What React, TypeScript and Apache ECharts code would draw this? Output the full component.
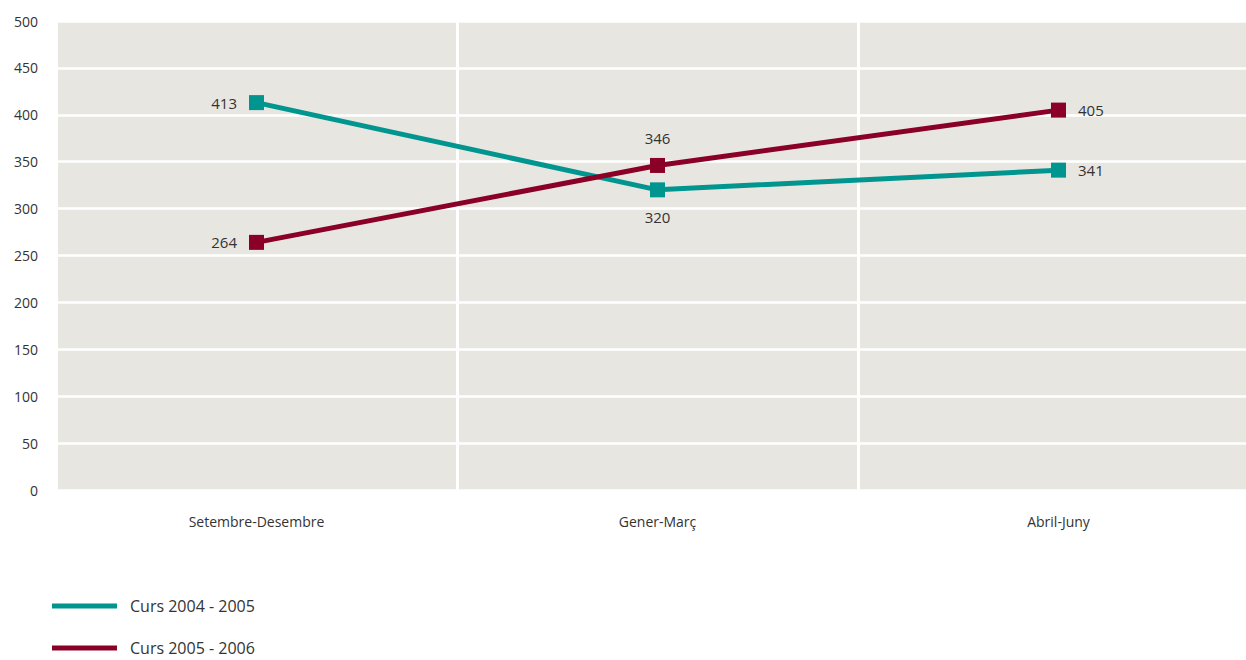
import React, { useEffect, useRef } from "react";
import * as echarts from "echarts";

const categories = ["Setembre-Desembre", "Gener-Març", "Abril-Juny"];
const curs2004 = [413, 320, 341];
const curs2005 = [264, 346, 405];
const seriesNames = ["Curs 2004 - 2005", "Curs 2005 - 2006"];
const yTicks = { min: 0, max: 500, interval: 50 };

const teal = "#00968F";
const wine = "#8A0026";
const textColor = "#333333";
const fontFamily = "'Open Sans', 'Noto Sans', sans-serif";

export default function App() {
  const ref = useRef<HTMLDivElement>(null);
  useEffect(() => {
    if (!ref.current) return;
    const chart = echarts.init(ref.current, undefined, { renderer: "svg" });
    const labelStyle = { show: true, color: textColor, fontSize: 15, fontFamily, distance: 12 };
    const pos2004 = ["left", "bottom", "right"];
    const pos2005 = ["left", "top", "right"];
    const legendBase = {
      orient: "horizontal",
      left: 47,
      itemWidth: 65,
      itemHeight: 5,
      icon: "rect",
      textStyle: { color: textColor, fontSize: 16, fontFamily, padding: [0, 0, 0, 8] },
    };
    chart.setOption({
      animation: false,
      textStyle: { fontFamily },
      grid: {
        left: 56,
        right: 0,
        top: 21,
        bottom: 170,
        show: true,
        backgroundColor: "#E8E6E1",
        borderWidth: 0,
      },
      legend: [
        { ...legendBase, top: 593, data: [seriesNames[0]] },
        { ...legendBase, top: 635, data: [seriesNames[1]] },
      ],
      xAxis: {
        type: "category",
        data: categories,
        boundaryGap: true,
        axisLine: { show: false },
        axisTick: { show: false },
        axisLabel: { color: textColor, fontSize: 14, margin: 24, fontFamily },
        splitLine: { show: true, lineStyle: { color: "#ffffff", width: 3 } },
      },
      yAxis: {
        type: "value",
        min: yTicks.min,
        max: yTicks.max,
        interval: yTicks.interval,
        axisLine: { show: false },
        axisTick: { show: false },
        axisLabel: { color: textColor, fontSize: 14, margin: 18, fontFamily },
        splitLine: { show: true, lineStyle: { color: "#ffffff", width: 2.5 } },
      },
      series: [
        {
          name: seriesNames[0],
          type: "line",
          data: curs2004.map((v, i) => ({ value: v, label: { ...labelStyle, position: pos2004[i] } })),
          symbol: "rect",
          symbolSize: 15,
          itemStyle: { color: teal },
          lineStyle: { color: teal, width: 5 },
          label: labelStyle,
          z: 3,
        },
        {
          name: seriesNames[1],
          type: "line",
          data: curs2005.map((v, i) => ({ value: v, label: { ...labelStyle, position: pos2005[i] } })),
          symbol: "rect",
          symbolSize: 15,
          itemStyle: { color: wine },
          lineStyle: { color: wine, width: 5 },
          label: labelStyle,
          z: 4,
        },
      ],
    });
    return () => chart.dispose();
  }, []);
  return (
    <div
      style={{ position: "fixed", left: 0, top: 0, width: 1246, height: 660, overflow: "hidden", background: "#ffffff" }}
    >
      <div ref={ref} style={{ width: 1259, height: 660 }} />
    </div>
  );
}
